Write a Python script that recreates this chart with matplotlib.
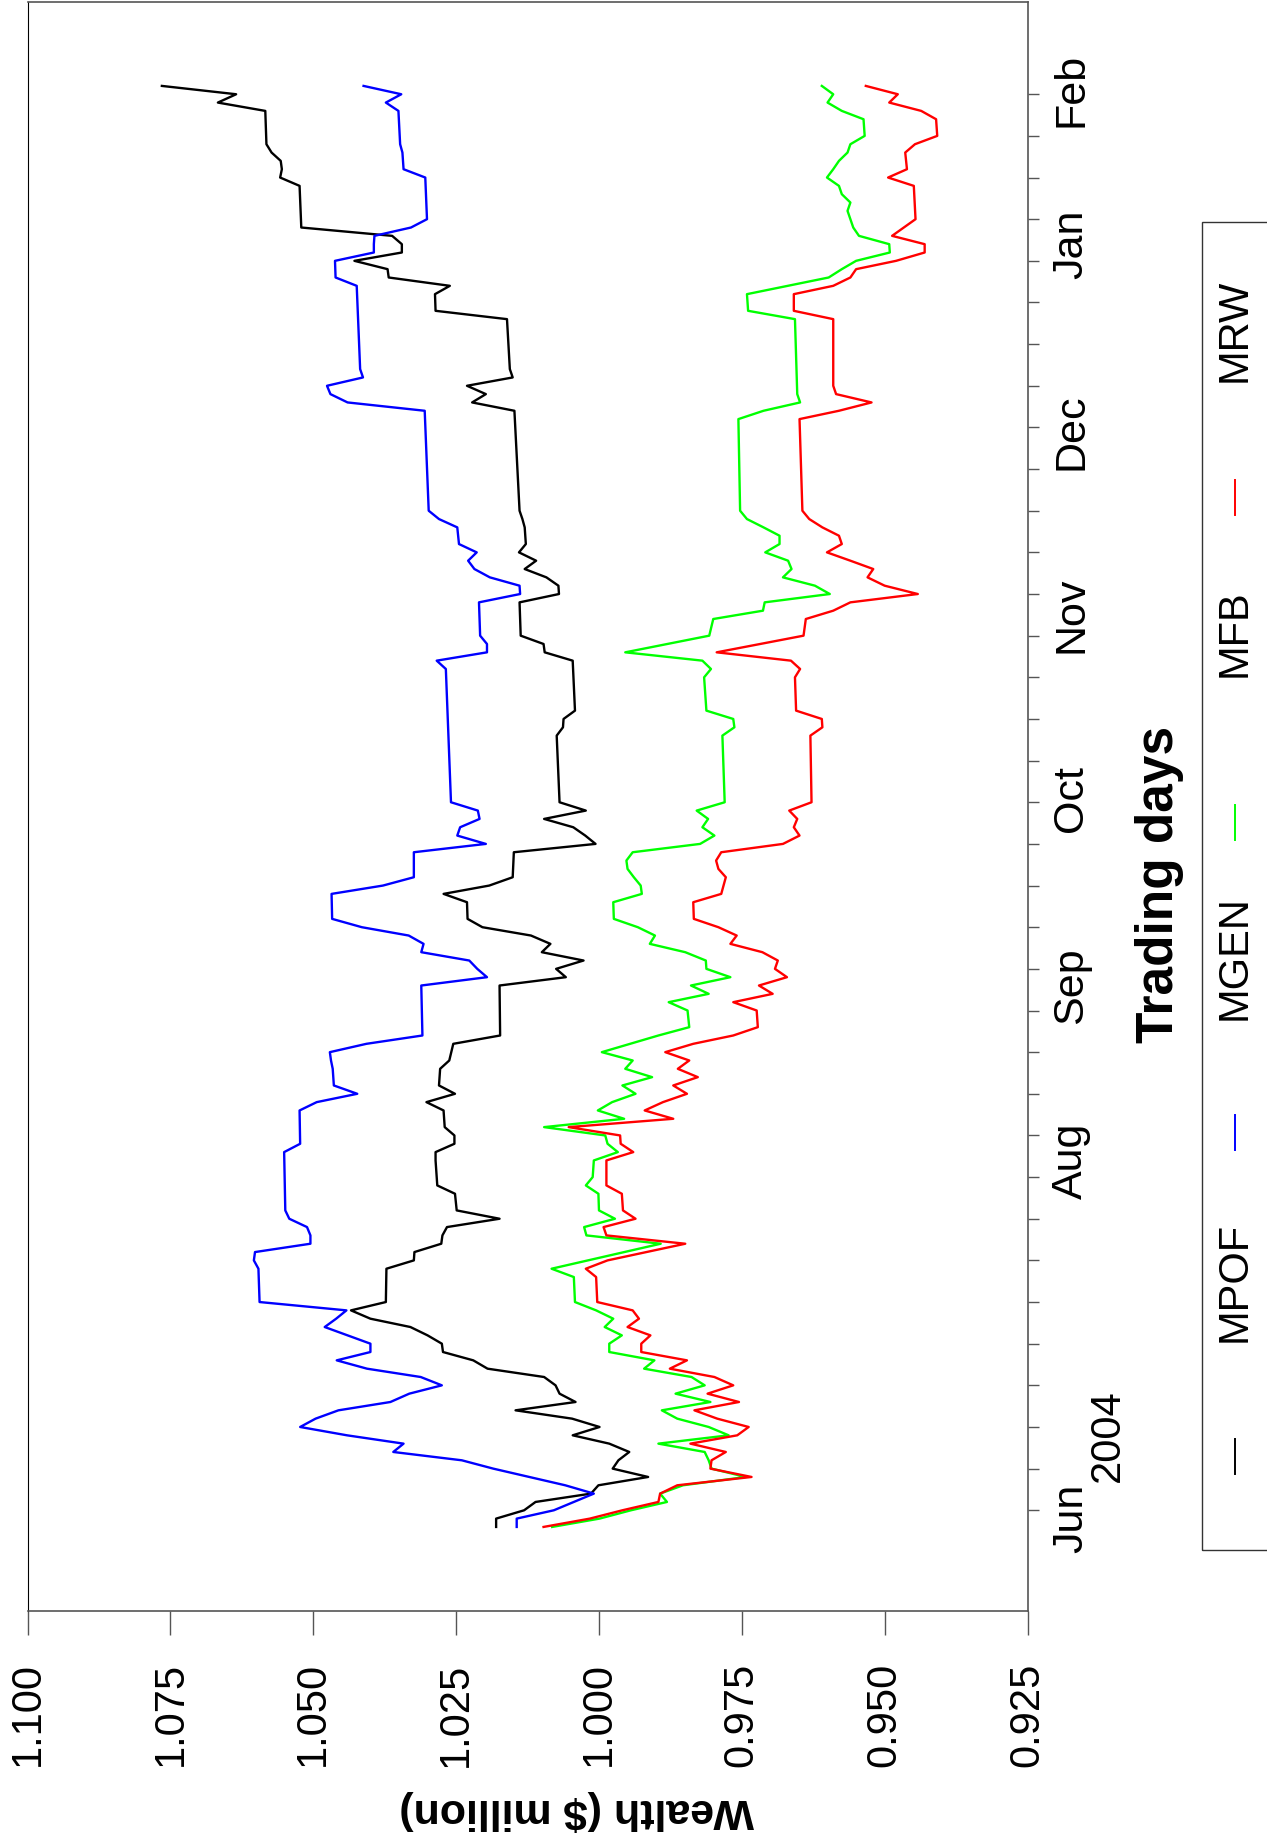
import matplotlib
matplotlib.use('Agg')
import matplotlib.pyplot as plt
from matplotlib import transforms
from matplotlib.lines import Line2D
from matplotlib.patches import Rectangle

plt.rcParams['font.family'] = ['Liberation Sans', 'DejaVu Sans']

# trading-day index (0 = first day in June 2004) and wealth in $ million
mpof_days = [0, 1, 2, 3, 4, 5, 6, 7, 8, 9, 10, 11, 12, 13, 14, 15, 16, 17, 18, 19, 20, 21, 22,
             23, 24, 25, 26, 27, 31, 32, 33, 34, 35, 36, 37, 38, 40, 41, 44, 45, 46, 47, 48, 50,
             51, 52, 53, 55, 56, 58, 59, 65, 66, 67, 68, 69, 70, 71, 72, 73, 75, 76, 77, 78, 81,
             82, 83, 84, 85, 86, 87, 95, 96, 97, 98, 104, 105, 106, 107, 111, 112, 113, 114, 115,
             116, 117, 118, 120, 121, 122, 134, 135, 136, 137, 138, 139, 145, 146, 148, 149, 150,
             151, 152, 153, 154, 155, 156, 161, 162, 163, 164, 165, 166, 170, 171, 172, 173]
mpof_vals = [1.0180, 1.0180, 1.0131, 1.0111, 1.0014, 1.0001, 0.9914, 0.9976, 0.9966, 0.9947,
             0.9982, 1.0046, 0.9999, 1.0047, 1.0146, 1.0041, 1.0069, 1.0076, 1.0096, 1.0195,
             1.0220, 1.0273, 1.0275, 1.0300, 1.0330, 1.0400, 1.0434, 1.0373, 1.0372, 1.0324,
             1.0323, 1.0276, 1.0274, 1.0266, 1.0174, 1.0249, 1.0252, 1.0283, 1.0286, 1.0286,
             1.0253, 1.0253, 1.0270, 1.0272, 1.0302, 1.0252, 1.0280, 1.0278, 1.0262, 1.0255,
             1.0173, 1.0174, 1.0058, 1.0075, 1.0027, 1.0100, 1.0085, 1.0119, 1.0204, 1.0230,
             1.0231, 1.0272, 1.0192, 1.0151, 1.0149, 1.0006, 1.0024, 1.0045, 1.0096, 1.0023,
             1.0069, 1.0074, 1.0063, 1.0062, 1.0042, 1.0046, 1.0095, 1.0097, 1.0137, 1.0139,
             1.0070, 1.0071, 1.0092, 1.0130, 1.0110, 1.0140, 1.0128, 1.0130, 1.0134, 1.0139,
             1.0148, 1.0222, 1.0198, 1.0231, 1.0151, 1.0156, 1.0161, 1.0286, 1.0287, 1.0261,
             1.0368, 1.0370, 1.0428, 1.0345, 1.0345, 1.0362, 1.0521, 1.0524, 1.0558, 1.0555,
             1.0557, 1.0573, 1.0582, 1.0584, 1.0667, 1.0635, 1.0765]

mgen_days = [0, 1, 2, 4, 5, 7, 8, 9, 10, 11, 12, 13, 14, 15, 16, 17, 18, 19, 20, 21, 22, 23, 24,
             25, 26, 27, 31, 32, 33, 34, 35, 36, 37, 38, 45, 46, 50, 51, 52, 53, 55, 56, 57, 58,
             59, 65, 66, 67, 68, 69, 70, 71, 72, 73, 76, 77, 78, 81, 82, 83, 84, 85, 86, 87, 103,
             104, 105, 106, 107, 111, 112, 113, 114, 115, 116, 117, 118, 120, 121, 122, 134, 135,
             136, 137, 138, 139, 149, 150, 152, 153, 154, 155, 156, 157, 162, 163, 165, 166, 170,
             171, 172, 173]
mgen_vals = [1.0144, 1.0144, 1.0079, 1.0009, 1.0059, 1.0185, 1.0240, 1.0360, 1.0342, 1.0441,
             1.0523, 1.0496, 1.0456, 1.0365, 1.0332, 1.0275, 1.0312, 1.0406, 1.0459, 1.0400,
             1.0400, 1.0440, 1.0480, 1.0460, 1.0442, 1.0594, 1.0596, 1.0604, 1.0602, 1.0505,
             1.0505, 1.0511, 1.0542, 1.0549, 1.0551, 1.0523, 1.0524, 1.0494, 1.0423, 1.0464,
             1.0466, 1.0469, 1.0471, 1.0407, 1.0309, 1.0311, 1.0196, 1.0213, 1.0227, 1.0311,
             1.0307, 1.0333, 1.0415, 1.0467, 1.0468, 1.0378, 1.0324, 1.0324, 1.0198, 1.0248,
             1.0243, 1.0209, 1.0212, 1.0259, 1.0268, 1.0284, 1.0196, 1.0196, 1.0208, 1.0210,
             1.0138, 1.0139, 1.0191, 1.0218, 1.0229, 1.0214, 1.0245, 1.0248, 1.0280, 1.0298,
             1.0305, 1.0440, 1.0470, 1.0476, 1.0413, 1.0418, 1.0424, 1.0461, 1.0462, 1.0394,
             1.0394, 1.0393, 1.0329, 1.0301, 1.0304, 1.0342, 1.0344, 1.0348, 1.0351, 1.0373,
             1.0346, 1.0412]

mfb_days = [0, 1, 2, 3, 4, 5, 6, 7, 8, 9, 10, 11, 12, 13, 14, 15, 16, 17, 18, 19, 20, 21, 22,
            23, 24, 25, 26, 27, 30, 31, 34, 35, 36, 37, 38, 40, 41, 42, 44, 45, 46, 47, 48, 49,
            50, 51, 52, 53, 54, 55, 56, 57, 59, 60, 62, 63, 64, 65, 66, 67, 68, 69, 70, 71, 72,
            73, 75, 76, 77, 78, 79, 80, 81, 82, 83, 84, 85, 86, 87, 95, 96, 97, 98, 102, 103,
            104, 105, 107, 109, 110, 111, 112, 113, 114, 115, 116, 117, 118, 119, 120, 121, 122,
            133, 134, 135, 136, 145, 146, 148, 150, 151, 152, 153, 154, 155, 156, 157, 158, 159,
            160, 161, 162, 163, 164, 165, 166, 167, 169, 170, 171, 172, 173]
mfb_vals = [1.0082, 0.9999, 0.9944, 0.9881, 0.9893, 0.9853, 0.9743, 0.9803, 0.9808, 0.9815,
            0.9896, 0.9773, 0.9808, 0.9863, 0.9890, 0.9805, 0.9866, 0.9815, 0.9838, 0.9921,
            0.9903, 0.9982, 0.9982, 0.9960, 0.9990, 0.9975, 1.0005, 1.0042, 1.0044, 1.0083,
            0.9892, 1.0022, 1.0026, 0.9972, 1.0000, 1.0001, 1.0023, 1.0011, 1.0009, 0.9967,
            0.9985, 0.9989, 1.0096, 0.9956, 1.0002, 0.9977, 0.9936, 0.9959, 0.9907, 0.9954,
            0.9941, 0.9995, 0.9896, 0.9842, 0.9845, 0.9878, 0.9808, 0.9839, 0.9770, 0.9812,
            0.9813, 0.9849, 0.9911, 0.9902, 0.9932, 0.9974, 0.9975, 0.9925, 0.9927, 0.9939,
            0.9950, 0.9952, 0.9941, 0.9823, 0.9798, 0.9819, 0.9809, 0.9829, 0.9780, 0.9784,
            0.9763, 0.9765, 0.9812, 0.9816, 0.9804, 0.9819, 0.9954, 0.9807, 0.9800, 0.9713,
            0.9710, 0.9596, 0.9622, 0.9678, 0.9663, 0.9669, 0.9709, 0.9684, 0.9684, 0.9712,
            0.9741, 0.9753, 0.9756, 0.9712, 0.9648, 0.9653, 0.9657, 0.9739, 0.9741, 0.9598,
            0.9575, 0.9550, 0.9491, 0.9492, 0.9545, 0.9555, 0.9560, 0.9565, 0.9560, 0.9575,
            0.9580, 0.9601, 0.9590, 0.9580, 0.9565, 0.9560, 0.9535, 0.9537, 0.9575, 0.9600,
            0.9590, 0.9610]

mrw_days = [0, 1, 2, 3, 4, 5, 6, 7, 8, 9, 10, 11, 12, 13, 14, 15, 16, 17, 18, 19, 20, 21, 22,
            23, 24, 25, 26, 27, 30, 31, 32, 34, 35, 36, 37, 38, 40, 41, 44, 45, 46, 47, 48, 49,
            50, 51, 52, 53, 54, 55, 56, 57, 58, 59, 60, 62, 63, 64, 65, 66, 67, 68, 69, 70, 71,
            72, 73, 75, 76, 78, 79, 80, 81, 82, 83, 84, 85, 86, 87, 95, 96, 97, 98, 102, 103,
            104, 105, 107, 109, 110, 111, 112, 113, 114, 115, 116, 117, 118, 119, 120, 121, 122,
            133, 134, 135, 136, 137, 145, 146, 148, 149, 150, 151, 152, 153, 154, 155, 157, 161,
            162, 163, 165, 166, 167, 169, 170, 171, 172, 173]
mrw_vals = [1.0097, 1.0016, 0.9959, 0.9896, 0.9893, 0.9863, 0.9733, 0.9805, 0.9803, 0.9778,
            0.9840, 0.9758, 0.9738, 0.9793, 0.9833, 0.9755, 0.9810, 0.9765, 0.9798, 0.9876,
            0.9846, 0.9926, 0.9926, 0.9910, 0.9950, 0.9930, 0.9941, 1.0003, 1.0005, 1.0023,
            0.9985, 0.9849, 0.9987, 0.9992, 0.9936, 0.9958, 0.9960, 0.9987, 0.9987, 0.9940,
            0.9962, 0.9963, 1.0053, 0.9870, 0.9920, 0.9888, 0.9846, 0.9870, 0.9827, 0.9862,
            0.9842, 0.9884, 0.9835, 0.9765, 0.9722, 0.9724, 0.9765, 0.9696, 0.9720, 0.9671,
            0.9692, 0.9687, 0.9714, 0.9770, 0.9759, 0.9791, 0.9834, 0.9835, 0.9786, 0.9778,
            0.9791, 0.9795, 0.9786, 0.9678, 0.9649, 0.9659, 0.9653, 0.9667, 0.9628, 0.9630,
            0.9609, 0.9610, 0.9655, 0.9657, 0.9648, 0.9664, 0.9794, 0.9642, 0.9638, 0.9590,
            0.9560, 0.9442, 0.9500, 0.9530, 0.9520, 0.9560, 0.9601, 0.9575, 0.9580, 0.9609,
            0.9632, 0.9644, 0.9649, 0.9580, 0.9523, 0.9585, 0.9590, 0.9590, 0.9659, 0.9659,
            0.9590, 0.9560, 0.9550, 0.9480, 0.9430, 0.9430, 0.9487, 0.9446, 0.9449, 0.9494,
            0.9461, 0.9464, 0.9447, 0.9408, 0.9410, 0.9436, 0.9492, 0.9477, 0.9533]

series = [
    ('MPOF', mpof_days, mpof_vals, 'black'),
    ('MGEN', mgen_days, mgen_vals, '#0000ff'),
    ('MFB', mfb_days, mfb_vals, '#00ff00'),
    ('MRW', mrw_days, mrw_vals, '#ff0000'),
]

wealth_ticks = [1.100, 1.075, 1.050, 1.025, 1.000, 0.975, 0.950, 0.925]
week_ticks = list(range(2, 173, 5))
month_labels = ['Jun', 'Jul', 'Aug', 'Sep', 'Oct', 'Nov', 'Dec', 'Jan', 'Feb']
month_pos = [1, 22, 44, 65, 87.5, 109.5, 131.5, 154, 172.5]

axis_grey = '#555555'

fig = plt.figure(figsize=(12.67, 18.48), dpi=100)
ax = fig.add_axes([0.02178, 0.1283, 0.7892, 0.8706])

# the chart is drawn turned a quarter turn: wealth runs along the bottom, days go up
for name, days, vals, color in series:
    ax.plot(vals, days, color=color, lw=1.7, label=name)

ax.set_xlim(1.100, 0.925)
ax.set_ylim(-10.08, 183.07)

for sp in ax.spines.values():
    sp.set_color(axis_grey)
    sp.set_linewidth(1.2)
ax.spines['left'].set_color('black')
ax.spines['left'].set_linewidth(0.8)

ax.set_xticks(wealth_ticks)
ax.set_xticklabels([f'{t:.3f}' for t in wealth_ticks], rotation=90)
ax.tick_params(axis='x', direction='out', length=17, width=1, color=axis_grey,
               pad=20, labelsize=30)

ax.yaxis.tick_right()
ax.set_yticks(week_ticks)
ax.set_yticklabels([])
ax.set_yticks(month_pos, minor=True)
ax.set_yticklabels(month_labels, minor=True, rotation=90)
ax.tick_params(axis='y', which='major', direction='out', length=8, width=1, color=axis_grey)
ax.tick_params(axis='y', which='minor', length=0, pad=17, labelsize=31)
for lbl in ax.get_yminorticklabels():
    lbl.set_va('center')

ax.set_xlabel('Wealth ($ million)', rotation=180, fontsize=31, fontweight='bold', va='center')
ax.xaxis.set_label_coords(0.549, -0.124)
ax.yaxis.set_label_position('right')
ax.set_ylabel('Trading days', rotation=90, fontsize=37, fontweight='bold', va='center')
ax.yaxis.set_label_coords(1.1324, 0.4518)

side = transforms.blended_transform_factory(ax.transAxes, ax.transData)
ax.text(1.0804, 11, '2004', transform=side, rotation=90, ha='center', va='center',
        fontsize=30, clip_on=False)

# legend, turned like the rest of the chart
fig.patches.append(Rectangle((0.9487, 0.1613), 0.1, 0.7186, transform=fig.transFigure,
                             fill=False, edgecolor='#333333', lw=1))
legend_rows = [(0.2120, 0.3063), (0.3870, 0.4816), (0.5551, 0.6575), (0.7309, 0.8214)]
for (name, days, vals, color), (line_y, text_y) in zip(series, legend_rows):
    fig.lines.append(Line2D([0.9747, 0.9747], [line_y - 0.0095, line_y + 0.0095],
                            transform=fig.transFigure, color=color, lw=1.4))
    fig.text(0.9747, text_y, name, rotation=90, ha='center', va='center', fontsize=30)

fig.savefig('out.png', dpi=100)
